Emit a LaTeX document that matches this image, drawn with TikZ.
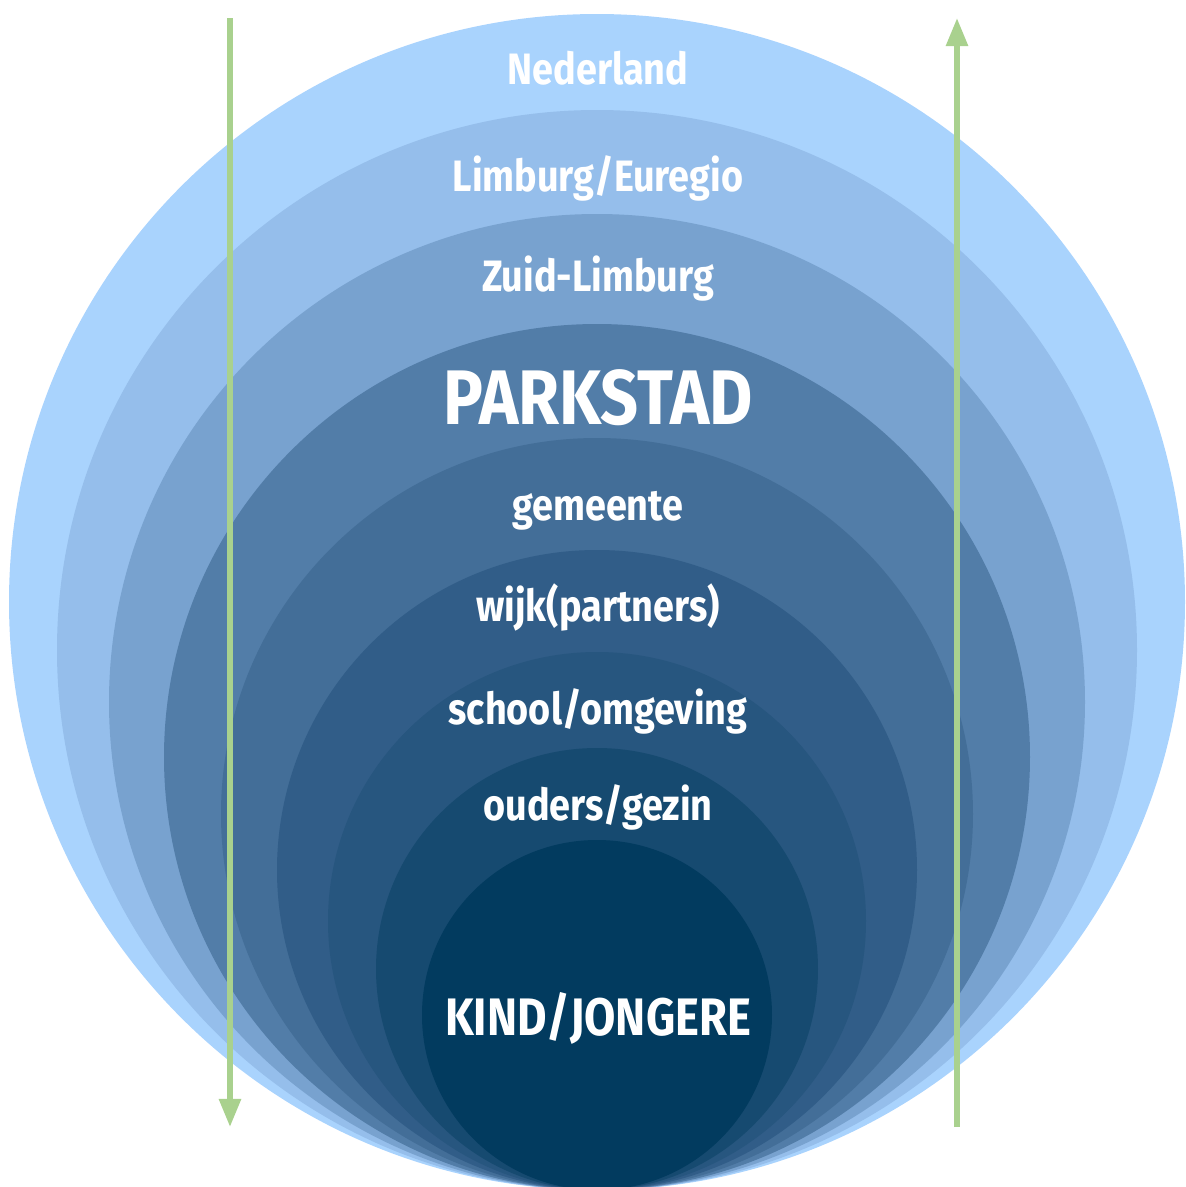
\documentclass[tikz,border=0pt]{standalone}
\usepackage{fontspec}
\setmainfont{Fira Sans}[FakeStretch=0.86]
\usetikzlibrary{arrows.meta}
\definecolor{ringA}{HTML}{A9D3FD}
\definecolor{ringB}{HTML}{95BEEB}
\definecolor{ringC}{HTML}{78A2CF}
\definecolor{ringD}{HTML}{527DA8}
\definecolor{ringE}{HTML}{436E98}
\definecolor{ringF}{HTML}{315D88}
\definecolor{ringG}{HTML}{27567F}
\definecolor{ringH}{HTML}{164A70}
\definecolor{ringI}{HTML}{023B5F}
\definecolor{pijl}{HTML}{A9D18E}
\newcommand{\lblsize}[1]{\bfseries\fontsize{#1}{#1}\selectfont}

\begin{document}
\begin{tikzpicture}[x=0.01cm,y=-0.01cm,
	lbl/.style={text=white,font=\lblsize{12.5}},
	pijlstijl/.style={line width=1.6pt,pijl,-{Triangle[width=6pt,length=8pt]}}]
	\useasboundingbox (0,0) rectangle (1186,1187);
	% ringen, allemaal rakend onderaan
	\foreach \r/\c in {588/ringA,540/ringB,488/ringC,433/ringD,376/ringE,320/ringF,269/ringG,221/ringH,175/ringI}
		\fill[\c] (597,1190-\r) circle (\r);
	% pijlen
	\coordinate (ltop) at (230,18);
	\coordinate (lbot) at (230,1127);
	\coordinate (rtop) at (957,18);
	\coordinate (rbot) at (957,1127);
	\draw[pijlstijl] (ltop)--(lbot);
	\draw[pijlstijl] (rbot)--(rtop);
	% teksten
	\node[lbl] (nl) at (598,68) {Nederland};
	\node[lbl] (lb) at (598,178) {Limburg/Euregio};
	\node[lbl] (zl) at (598,279) {Zuid-Limburg};
	\node[lbl,font=\lblsize{22}] (pk) at (598,398) {PARKSTAD};
	\node[lbl] (gm) at (598,511) {gemeente};
	\node[lbl] (wk) at (598,607) {wijk(partners)};
	\node[lbl] (sc) at (598,711) {school/omgeving};
	\node[lbl] (og) at (598,807) {ouders/gezin};
	\node[lbl,font=\lblsize{15}] (kj) at (598,1018) {KIND/JONGERE};
\end{tikzpicture}
\end{document}
